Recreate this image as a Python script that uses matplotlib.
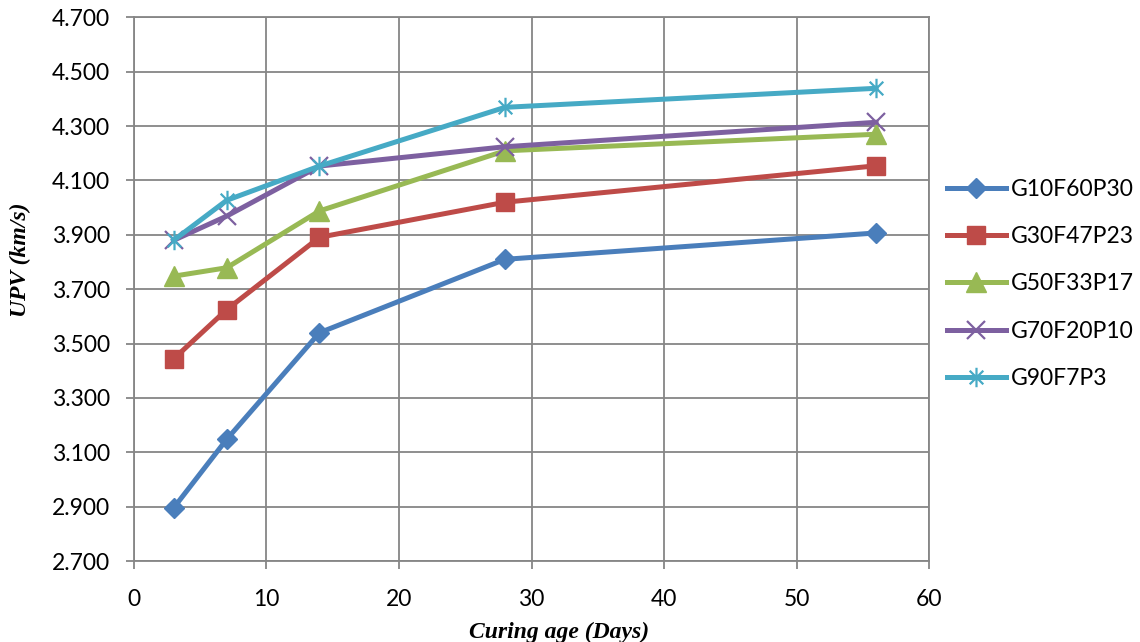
import matplotlib.pyplot as plt
from matplotlib.path import Path
from matplotlib.ticker import FormatStrFormatter

days = [3, 7, 14, 28, 56]

g10f60p30 = [2.896, 3.148, 3.540, 3.810, 3.907]
g30f47p23 = [3.444, 3.625, 3.891, 4.020, 4.154]
g50f33p17 = [3.748, 3.779, 3.988, 4.209, 4.270]
g70f20p10 = [3.880, 3.969, 4.153, 4.224, 4.314]
g90f7p3 = [3.880, 4.027, 4.153, 4.369, 4.439]

labels = ['G10F60P30', 'G30F47P23', 'G50F33P17', 'G70F20P10', 'G90F7P3']
yticks = [2.7, 2.9, 3.1, 3.3, 3.5, 3.7, 3.9, 4.1, 4.3, 4.5, 4.7]
xticks = [0, 10, 20, 30, 40, 50, 60]

# excel style star: x plus a vertical bar
star = Path([(0, -1), (0, 1), (-0.7, -0.7), (0.7, 0.7), (-0.7, 0.7), (0.7, -0.7)],
            [Path.MOVETO, Path.LINETO, Path.MOVETO, Path.LINETO, Path.MOVETO, Path.LINETO])

plt.rcParams['font.family'] = ['Lato', 'DejaVu Sans']

fig = plt.figure(figsize=(11.4, 6.42), dpi=100)
ax = fig.add_axes([0.1175, 0.126, 0.6975, 0.847])

lw = 3.6
ax.plot(days, g10f60p30, color='#4A7EBB', lw=lw, marker='D', ms=10, label=labels[0], zorder=3)
ax.plot(days, g30f47p23, color='#BE4B48', lw=lw, marker='s', ms=13, label=labels[1], zorder=3)
ax.plot(days, g50f33p17, color='#98B954', lw=lw, marker='^', ms=14, label=labels[2], zorder=3)
ax.plot(days, g70f20p10, color='#7D60A0', lw=lw, marker='x', ms=13, mew=1.6, label=labels[3], zorder=3)
ax.plot(days, g90f7p3, color='#46AAC5', lw=lw, marker=star, ms=14, mew=1.6, label=labels[4], zorder=3)

ax.set_xlim(0, 60)
ax.set_ylim(2.7, 4.7)
ax.set_xticks(xticks)
ax.set_yticks(yticks)
ax.yaxis.set_major_formatter(FormatStrFormatter('%.3f'))
ax.grid(True, color='#868686', lw=1.3)
ax.set_axisbelow(True)
for s in ax.spines.values():
    s.set_color('#868686')
    s.set_linewidth(1.3)
ax.tick_params(axis='both', labelsize=16.5, color='#868686', length=6, width=1.3)
ax.tick_params(axis='y', pad=11)
ax.tick_params(axis='x', pad=14)

ax.set_xlabel('Curing age (Days)', fontsize=17, fontweight='bold', style='italic',
              family='Liberation Serif')
ax.xaxis.set_label_coords(0.535, -0.112)
ax.set_ylabel('UPV (km/s)', fontsize=17, fontweight='bold', style='italic',
              family='Liberation Serif')
ax.yaxis.set_label_coords(-0.13, 0.555)

ax.legend(loc='center left', bbox_to_anchor=(0.996, 0.51), frameon=False, fontsize=16.5,
          handlelength=2.6, labelspacing=1.15, handletextpad=0.2)

fig.savefig('out.png', dpi=100)
